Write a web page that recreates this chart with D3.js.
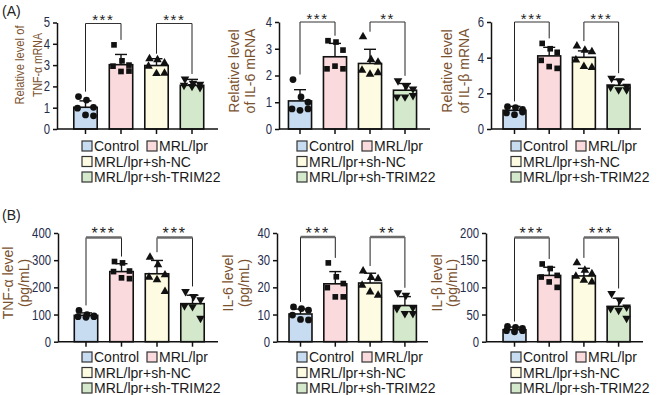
<!DOCTYPE html>
<html>
<head>
<meta charset="utf-8">
<script src="https://cdn.jsdelivr.net/npm/d3@7"></script>
<style>
  body { margin: 0; background: #fff; }
  svg, svg text { font-family: Arial, "Liberation Sans", sans-serif; }
  svg { display: block; }
</style>
</head>
<body>
<div id="chart"></div>
<script>
// groups
const categories = ["Control", "MRL/lpr", "MRL/lpr+sh-NC", "MRL/lpr+sh-TRIM22"];

// (A) mRNA levels
const tnfMrnaMean = [1.02, 3.02, 2.98, 2.05];
const tnfMrnaSd = [0.30, 0.48, 0.32, 0.28];
const tnfMrnaPts = [[1.52, 1.36, 1.02, 0.98, 0.66, 0.62], [3.95, 3.2, 3.0, 2.95, 2.7, 2.72], [3.3, 3.25, 3.1, 2.95, 2.6, 2.62], [2.35, 2.15, 2.1, 2.05, 2.0, 1.95]];
const il6MrnaMean = [1.05, 2.7, 2.45, 1.45];
const il6MrnaSd = [0.42, 0.5, 0.53, 0.25];
const il6MrnaPts = [[1.85, 1.2, 1.0, 0.75, 0.7, 0.75], [3.3, 3.25, 2.95, 2.25, 2.35, 2.25], [3.45, 2.6, 2.5, 2.2, 2.05, 2.1], [1.8, 1.6, 1.5, 1.2, 1.2, 1.25]];
const il1bMrnaMean = [1.05, 4.1, 4.02, 2.45];
const il1bMrnaSd = [0.22, 0.48, 0.36, 0.32];
const il1bMrnaPts = [[1.25, 1.2, 1.1, 0.9, 0.8, 0.95], [4.8, 4.5, 4.3, 3.85, 3.5, 3.4], [4.65, 4.42, 4.33, 3.87, 3.5, 3.45], [2.85, 2.7, 2.4, 2.35, 2.2, 2.2]];

// (B) protein levels, pg/mL
const tnfLevelMean = [97, 258, 250, 140];
const tnfLevelSd = [9, 29, 49, 31];
const tnfLevelPts = [[115, 100, 95, 92, 90, 92], [295, 290, 260, 258, 235, 232], [311, 283, 246, 237, 228, 185], [185, 166, 154, 132, 129, 86]];
const il6LevelMean = [10.2, 21.3, 21.6, 13.3];
const il6LevelSd = [1.8, 4.5, 3.6, 3.3];
const il6LevelPts = [[12.8, 12.2, 11.6, 9.8, 8.2, 8.0], [29, 23.9, 21.4, 19.9, 16.5, 16.5], [26, 23.6, 23.2, 20.8, 18.3, 17.1], [18, 17.1, 12.6, 12.2, 10.4, 10.4]];
const il1bLevelMean = [22, 122, 121, 65];
const il1bLevelSd = [5, 15, 14, 15];
const il1bLevelPts = [[28, 26.3, 24.5, 20.2, 18.3, 20.2], [143, 134.6, 122, 119, 110, 100], [145, 131.5, 125, 120.5, 113, 110], [88.7, 76.5, 64, 61, 58, 43]];

// axes
const tnfMrnaTicks = [0, 1, 2, 3, 4, 5];
const il6MrnaTicks = [0, 1, 2, 3, 4];
const il1bMrnaTicks = [0, 2, 4, 6];
const tnfLevelTicks = [0, 100, 200, 300, 400];
const il6LevelTicks = [0, 10, 20, 30, 40];
const il1bLevelTicks = [0, 50, 100, 150, 200];

// significance (left pair, right pair)
const tnfMrnaStars = ["***", "***"];
const il6MrnaStars = ["***", "**"];
const il1bMrnaStars = ["***", "***"];
const tnfLevelStars = ["***", "***"];
const il6LevelStars = ["***", "**"];
const il1bLevelStars = ["***", "***"];

const fills = ["#c8dcf1", "#fbdadd", "#fdfbe1", "#d4e9cb"];
const shapes = [d3.symbolCircle, d3.symbolSquare, d3.symbolTriangle, d3.symbolTriangle];
const jitter = [-7, 1, 8, -8, 0, 8];
const labelColor = "#7a5230";
const tickColor = "#1f2d4d";
const FONT = "Arial, Liberation Sans, sans-serif";

const W = 658, H = 395;
const svg = d3.select("#chart").append("svg").attr("width", W).attr("height", H)
  .attr("font-family", FONT);

svg.append("text").attr("x", 2).attr("y", 16).attr("font-size", 14).attr("fill", "#222").text("(A)");
svg.append("text").attr("x", 2).attr("y", 220).attr("font-size", 14).attr("fill", "#222").text("(B)");

const panels = [
  { mean: tnfMrnaMean, sd: tnfMrnaSd, pts: tnfMrnaPts, ticks: tnfMrnaTicks, stars: tnfMrnaStars,
    label: ["Relative level of", "TNF-α mRNA"], lx: [19, 37], ly: 65, fs: 12.5, squeeze: [79, 64],
    ax: 57, first: 85.5, step: 35.5, end: 218, top: 22.5, base: 129, legX: 82, legY: 146, br: 1, thick: false },
  { mean: il6MrnaMean, sd: il6MrnaSd, pts: il6MrnaPts, ticks: il6MrnaTicks, stars: il6MrnaStars,
    label: ["Relative level", "of IL-6 mRNA"], lx: [234, 250], ly: 71,
    ax: 279, first: 300, step: 35, end: 430, top: 22, base: 129, legX: 297, legY: 146, br: 0, thick: false },
  { mean: il1bMrnaMean, sd: il1bMrnaSd, pts: il1bMrnaPts, ticks: il1bMrnaTicks, stars: il1bMrnaStars,
    label: ["Relative level", "of IL-β mRNA"], lx: [447, 464], ly: 71,
    ax: 491, first: 514.5, step: 34.7, end: 641, top: 22, base: 129, legX: 511, legY: 146, br: 0, thick: false },
  { mean: tnfLevelMean, sd: tnfLevelSd, pts: tnfLevelPts, ticks: tnfLevelTicks, stars: tnfLevelStars,
    label: ["TNF-α level", "(pg/mL)"], lx: [8, 24], ly: 283,
    ax: 58, first: 86, step: 35.5, end: 218, top: 233, base: 341.7, legX: 82, legY: 357, br: 4.5, thick: true },
  { mean: il6LevelMean, sd: il6LevelSd, pts: il6LevelPts, ticks: il6LevelTicks, stars: il6LevelStars,
    label: ["IL-6 level", "(pg/mL)"], lx: [228, 244], ly: 283,
    ax: 277, first: 300.5, step: 34.8, end: 428, top: 233, base: 341.7, legX: 297, legY: 357, br: 4, thick: true },
  { mean: il1bLevelMean, sd: il1bLevelSd, pts: il1bLevelPts, ticks: il1bLevelTicks, stars: il1bLevelStars,
    label: ["IL-β level", "(pg/mL)"], lx: [437, 452], ly: 283,
    ax: 486, first: 514.5, step: 34.7, end: 643, top: 233, base: 341.7, legX: 511, legY: 357, br: 4.5, thick: true }
];

panels.forEach(p => {
  const g = svg.append("g");
  const x = d3.scaleBand().domain(categories)
    .range([p.first - p.step / 2, p.first - p.step / 2 + p.step * categories.length])
    .paddingInner(0.34).paddingOuter(0.17);
  const y = d3.scaleLinear().domain([0, d3.max(p.ticks)]).range([p.base, p.top]);
  const bw = x.bandwidth();

  // y label
  p.label.forEach((t, i) => {
    const txt = g.append("text")
      .attr("transform", `translate(${p.lx[i]},${p.ly}) rotate(-90)`)
      .attr("text-anchor", "middle").attr("dy", "0.36em")
      .attr("font-family", FONT)
      .attr("font-size", p.fs || 14).attr("fill", labelColor).text(t);
    if (p.squeeze) txt.attr("textLength", p.squeeze[i]).attr("lengthAdjust", "spacingAndGlyphs");
  });

  // bars
  g.selectAll("rect.bar").data(p.mean).enter().append("rect")
    .attr("x", (d, i) => x(categories[i]))
    .attr("y", d => y(d))
    .attr("width", bw)
    .attr("height", d => p.base - y(d))
    .attr("fill", (d, i) => fills[i])
    .attr("stroke", "#111").attr("stroke-width", 1.6);

  // error bars (upper only)
  p.mean.forEach((m, i) => {
    const cx = x(categories[i]) + bw / 2;
    g.append("line").attr("x1", cx).attr("x2", cx).attr("y1", y(m)).attr("y2", y(m + p.sd[i]))
      .attr("stroke", "#111").attr("stroke-width", 1.4);
    g.append("line").attr("x1", cx - 6).attr("x2", cx + 6).attr("y1", y(m + p.sd[i])).attr("y2", y(m + p.sd[i]))
      .attr("stroke", "#111").attr("stroke-width", 1.4);
  });

  // points
  p.pts.forEach((arr, i) => {
    const cx = x(categories[i]) + bw / 2;
    const sym = d3.symbol().type(shapes[i]).size(i === 0 ? 36 : 32);
    g.selectAll(null).data(arr).enter().append("path")
      .attr("d", sym)
      .attr("transform", (d, j) => `translate(${cx + jitter[j]},${y(d)})` + (i === 3 ? " rotate(180)" : ""))
      .attr("fill", "#111");
  });

  // axes
  const yAxis = d3.axisLeft(y).tickValues(p.ticks).tickFormat(d3.format("d"))
    .tickSize(4).tickSizeOuter(0).tickPadding(3);
  const ya = g.append("g").attr("transform", `translate(${p.ax},0)`).call(yAxis);
  ya.select(".domain").attr("stroke", "#111").attr("stroke-width", 1.5);
  ya.selectAll(".tick line").attr("stroke", "#111").attr("stroke-width", 1.5);
  ya.selectAll(".tick text").attr("font-size", 14).attr("fill", tickColor).attr("font-family", FONT)
    .attr("textLength", d => String(d).length * 6.3).attr("lengthAdjust", "spacingAndGlyphs");

  const xAxis = d3.axisBottom(x).tickSize(5).tickSizeOuter(0).tickFormat("");
  const xa = g.append("g").attr("transform", `translate(0,${p.base})`).call(xAxis);
  xa.select(".domain").attr("d", `M${p.ax},0H${p.end}`).attr("stroke", "#111").attr("stroke-width", 1.5);
  xa.selectAll(".tick line").attr("stroke", "#111").attr("stroke-width", 1.5);

  // significance brackets
  [[0, 1], [2, 3]].forEach((pair, k) => {
    const by = p.top + p.br;
    const xs = pair.map(i => x(categories[i]) + bw / 2);
    const ends = pair.map(i => y(Math.max(d3.max(p.pts[i]), p.mean[i] + p.sd[i])) - 5);
    g.append("path")
      .attr("d", `M${xs[0]},${ends[0]}V${by}M${xs[1]},${by}V${ends[1]}`)
      .attr("fill", "none").attr("stroke", "#222").attr("stroke-width", 1);
    g.append("line").attr("x1", xs[0]).attr("x2", xs[1]).attr("y1", by).attr("y2", by)
      .attr("stroke", p.thick ? "#6a6a6a" : "#333").attr("stroke-width", p.thick ? 2.6 : 1.2);
    g.append("text").attr("x", (xs[0] + xs[1]) / 2).attr("y", by + 1.5)
      .attr("text-anchor", "middle").attr("font-size", p.thick ? 16 : 15).attr("font-family", FONT)
      .attr("letter-spacing", p.thick ? 2 : 1.5).attr("fill", "#222").text(p.stars[k]);
  });

  // legend
  const legPos = [[0, 0], [65, 0], [0, 15.5], [0, 31]];
  categories.forEach((c, i) => {
    const lx = p.legX + legPos[i][0], ly = p.legY + legPos[i][1];
    g.append("rect").attr("x", lx).attr("y", ly - 5).attr("width", 10).attr("height", 10)
      .attr("fill", fills[i]).attr("stroke", "#333").attr("stroke-width", 1.2);
    g.append("text").attr("x", lx + 12).attr("y", ly).attr("dy", "0.36em")
      .attr("font-size", 14).attr("font-family", FONT).attr("fill", "#1a1a1a").text(c);
  });
});
</script>
</body>
</html>
